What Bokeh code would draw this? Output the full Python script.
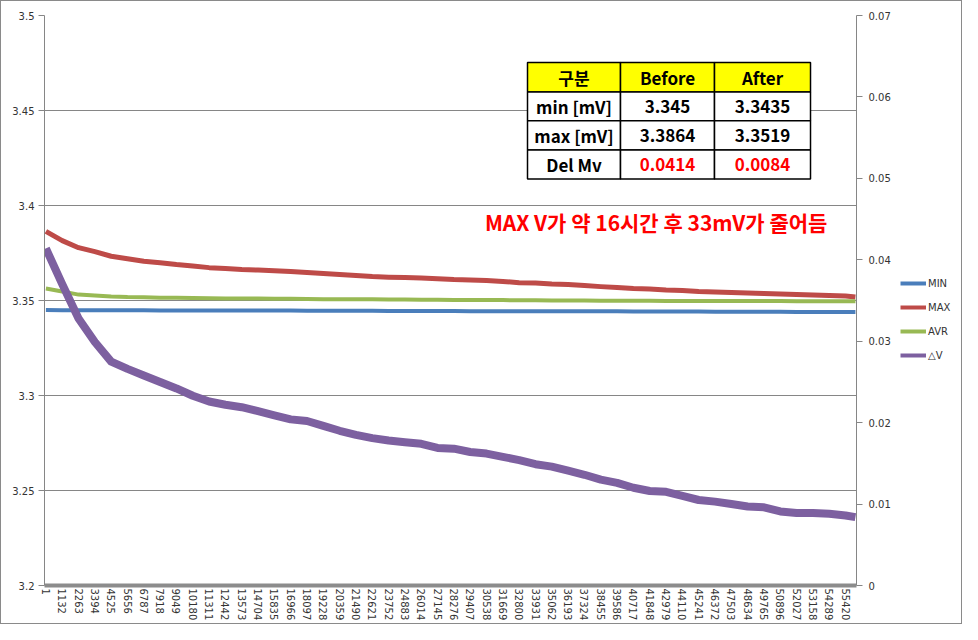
from bokeh.plotting import figure
from bokeh.layouts import row
from bokeh.models import (Range1d, LinearAxis, FixedTicker, CustomJSTickFormatter,
                          Legend, LegendItem, ColumnDataSource, Label)
from bokeh.core.properties import value
from bokeh.embed import file_html
from bokeh.resources import INLINE

# ---------------- data ----------------
x_tick_labels = [1, 1132, 2263, 3394, 4525, 5656, 6787, 7918, 9049, 10180,
                 11311, 12442, 13573, 14704, 15835, 16966, 18097, 19228, 20359, 21490,
                 22621, 23752, 24883, 26014, 27145, 28276, 29407, 30538, 31669, 32800,
                 33931, 35062, 36193, 37324, 38455, 39586, 40717, 41848, 42979, 44110,
                 45241, 46372, 47503, 48634, 49765, 50896, 52027, 53158, 54289, 55420]

sample_index = x_tick_labels + [56100]

min_v = [3.3450, 3.3449, 3.3449, 3.3449, 3.3449, 3.3449, 3.3449, 3.3448, 3.3448, 3.3448,
         3.3448, 3.3447, 3.3447, 3.3447, 3.3447, 3.3447, 3.3446, 3.3446, 3.3446, 3.3446,
         3.3446, 3.3445, 3.3445, 3.3445, 3.3445, 3.3445, 3.3444, 3.3444, 3.3444, 3.3444,
         3.3444, 3.3443, 3.3443, 3.3443, 3.3443, 3.3443, 3.3442, 3.3442, 3.3442, 3.3442,
         3.3442, 3.3441, 3.3441, 3.3441, 3.3441, 3.3441, 3.3440, 3.3440, 3.3440, 3.3440,
         3.3440]

max_v = [3.3864, 3.3815, 3.3778, 3.3757, 3.3733, 3.3720, 3.3707, 3.3699, 3.3689, 3.3681,
         3.3673, 3.3668, 3.3663, 3.3660, 3.3657, 3.3652, 3.3647, 3.3642, 3.3637, 3.3631,
         3.3626, 3.3623, 3.3621, 3.3618, 3.3615, 3.3610, 3.3608, 3.3605, 3.3600, 3.3594,
         3.3592, 3.3587, 3.3584, 3.3579, 3.3573, 3.3568, 3.3563, 3.3560, 3.3555, 3.3552,
         3.3547, 3.3545, 3.3542, 3.3539, 3.3537, 3.3534, 3.3531, 3.3529, 3.3526, 3.3524,
         3.3519]

avr_v = [3.3563, 3.3547, 3.3531, 3.3526, 3.3521, 3.3518, 3.3517, 3.3515, 3.3514, 3.3513,
         3.3512, 3.3511, 3.3510, 3.3510, 3.3509, 3.3509, 3.3508, 3.3507, 3.3507, 3.3506,
         3.3506, 3.3505, 3.3505, 3.3504, 3.3504, 3.3503, 3.3503, 3.3502, 3.3502, 3.3501,
         3.3501, 3.3500, 3.3500, 3.3500, 3.3499, 3.3499, 3.3499, 3.3499, 3.3498, 3.3498,
         3.3498, 3.3498, 3.3497, 3.3497, 3.3497, 3.3497, 3.3496, 3.3496, 3.3496, 3.3496,
         3.3496]

dv_v = [0.0414, 0.0370, 0.0328, 0.0299, 0.0275, 0.0266, 0.0258, 0.0250, 0.0242, 0.0233,
        0.0226, 0.0222, 0.0219, 0.0214, 0.0209, 0.0204, 0.0202, 0.0196, 0.0190, 0.0185,
        0.0181, 0.0178, 0.0176, 0.0174, 0.0169, 0.0168, 0.0164, 0.0162, 0.0158, 0.0154,
        0.0149, 0.0146, 0.0141, 0.0136, 0.0130, 0.0126, 0.0120, 0.0116, 0.0115, 0.0110,
        0.0105, 0.0103, 0.0100, 0.0097, 0.0096, 0.0091, 0.0089, 0.0089, 0.0088, 0.0086,
        0.0084]

left_ticks = [3.2, 3.25, 3.3, 3.35, 3.4, 3.45, 3.5]
right_ticks = [0, 0.01, 0.02, 0.03, 0.04, 0.05, 0.06, 0.07]

series_names = ["MIN", "MAX", "AVR", "\u25b3V"]

table_header = ["구분", "Before", "After"]
table_rows = [["min [mV]", "3.345", "3.3435"],
              ["max [mV]", "3.3864", "3.3519"],
              ["Del Mv", "0.0414", "0.0084"]]
note_text = "MAX V가 약 16시간 후 33mV가  줄어듬"

# ---------------- layout / style ----------------
GRAY = "#868686"
COLORS = ["#4A7EBB", "#BE4B48", "#98B954", "#7D60A0"]
TICK_FONT = "DejaVu Sans"
KR_FONT = "Noto Sans CJK KR"
H = 622

p = figure(width=894, height=H, output_backend="svg", toolbar_location=None,
           x_range=Range1d(-96, 56175), y_range=Range1d(3.2, 3.5),
           min_border_left=43, min_border_right=39, min_border_top=14,
           min_border_bottom=36)
p.extra_y_ranges = {"dv": Range1d(0, 0.07)}
p.outline_line_color = None
p.background_fill_color = "white"
p.border_fill_color = "white"

fmt = CustomJSTickFormatter(code="return String(parseFloat(tick.toFixed(4)));")

xa = p.xaxis[0]
xa.ticker = FixedTicker(ticks=x_tick_labels)
xa.formatter = CustomJSTickFormatter(code="return tick.toFixed(0);")
xa.major_label_orientation = "vertical"
xa.major_tick_out = 0
xa.major_tick_in = 0
xa.minor_tick_out = 0
xa.minor_tick_in = 0
xa.axis_line_width = 4
xa.axis_line_color = "#8c8c8c"
xa.major_label_standoff = 3
xa.major_label_text_font = TICK_FONT
xa.major_label_text_font_size = "10px"
xa.major_label_text_color = "#333333"

ya = p.yaxis[0]
ya.ticker = FixedTicker(ticks=left_ticks)
ya.formatter = fmt
ya.major_tick_out = 6
ya.major_tick_in = 0
ya.minor_tick_out = 0
ya.minor_tick_in = 0
ya.axis_line_color = GRAY
ya.major_tick_line_color = GRAY
ya.major_label_standoff = 4
ya.major_label_text_font = TICK_FONT
ya.major_label_text_font_size = "10px"
ya.major_label_text_color = "#333333"

p.xgrid.visible = False
p.ygrid.ticker = FixedTicker(ticks=left_ticks)
p.ygrid.grid_line_color = GRAY
p.ygrid.grid_line_width = 1

ra = LinearAxis(y_range_name="dv", ticker=FixedTicker(ticks=right_ticks), formatter=fmt)
ra.major_tick_out = 6
ra.major_tick_in = 0
ra.minor_tick_out = 0
ra.minor_tick_in = 0
ra.axis_line_color = GRAY
ra.major_tick_line_color = GRAY
ra.major_label_standoff = 6
ra.major_label_text_font = TICK_FONT
ra.major_label_text_font_size = "10px"
ra.major_label_text_color = "#333333"
p.add_layout(ra, "right")

# ---------------- series ----------------
src = ColumnDataSource(dict(x=sample_index, mn=min_v, mx=max_v, av=avr_v, dv=dv_v))
r_min = p.line("x", "mn", source=src, line_color=COLORS[0], line_width=4, line_join="round")
r_max = p.line("x", "mx", source=src, line_color=COLORS[1], line_width=5, line_join="round")
r_avr = p.line("x", "av", source=src, line_color=COLORS[2], line_width=4, line_join="round")
r_dv = p.line("x", "dv", source=src, y_range_name="dv", line_color=COLORS[3],
              line_width=8, line_join="round")

# ---------------- table ----------------
col_edges = [33376, 39821, 46335, 52988]
row_edges = [3.4753, 3.4598, 3.4446, 3.4292, 3.4140]
all_rows = [table_header] + table_rows
cl, cr, ct, cb, cf, tx, ty, tt, tc = [], [], [], [], [], [], [], [], []
for r, rw in enumerate(all_rows):
    for c, txt in enumerate(rw):
        cl.append(col_edges[c]); cr.append(col_edges[c + 1])
        ct.append(row_edges[r]); cb.append(row_edges[r + 1])
        cf.append("#FFFF00" if r == 0 else "#FFFFFF")
        tx.append((col_edges[c] + col_edges[c + 1]) / 2)
        ty.append((row_edges[r] + row_edges[r + 1]) / 2)
        tt.append(txt)
        tc.append("#FF0000" if (r == 3 and c > 0) else "#000000")
p.quad(left=cl, right=cr, top=ct, bottom=cb, fill_color=cf, line_color="black",
       line_width=1.5)
p.text(x=tx, y=ty, text=tt, text_color=tc, text_align="center", text_baseline="middle",
       text_font=value(KR_FONT), text_font_size="17px", text_font_style="bold")

note = Label(x=42454, y=3.3914, text=note_text, text_color="#FF0000",
             text_font=KR_FONT, text_font_size="21px", text_font_style="bold",
             text_align="center", text_baseline="middle")
p.add_layout(note)

# ---------------- legend (own narrow panel to the right) ----------------
lg = figure(width=66, height=H, output_backend="svg", toolbar_location=None,
            x_range=Range1d(0, 1), y_range=Range1d(0, 1),
            x_axis_type=None, y_axis_type=None, min_border=0)
lg.outline_line_color = None
lg.grid.visible = False
nan = float("nan")
swatches = [lg.line(x=[nan], y=[nan], line_color=c, line_width=4) for c in COLORS]
legend = Legend(items=[LegendItem(label=n, renderers=[r]) for n, r in
                       zip(series_names, swatches)],
                location=(5, H - 402), border_line_color=None, background_fill_alpha=0,
                glyph_width=26, glyph_height=20, label_height=20, spacing=4,
                padding=5, margin=0, label_standoff=2,
                label_text_font=TICK_FONT, label_text_font_size="10px",
                label_text_color="#333333")
lg.add_layout(legend)

layout = row(p, lg, spacing=0, styles={"border": "1px solid #8a8a8a"})

open("out.html", "w").write(file_html(layout, INLINE))
